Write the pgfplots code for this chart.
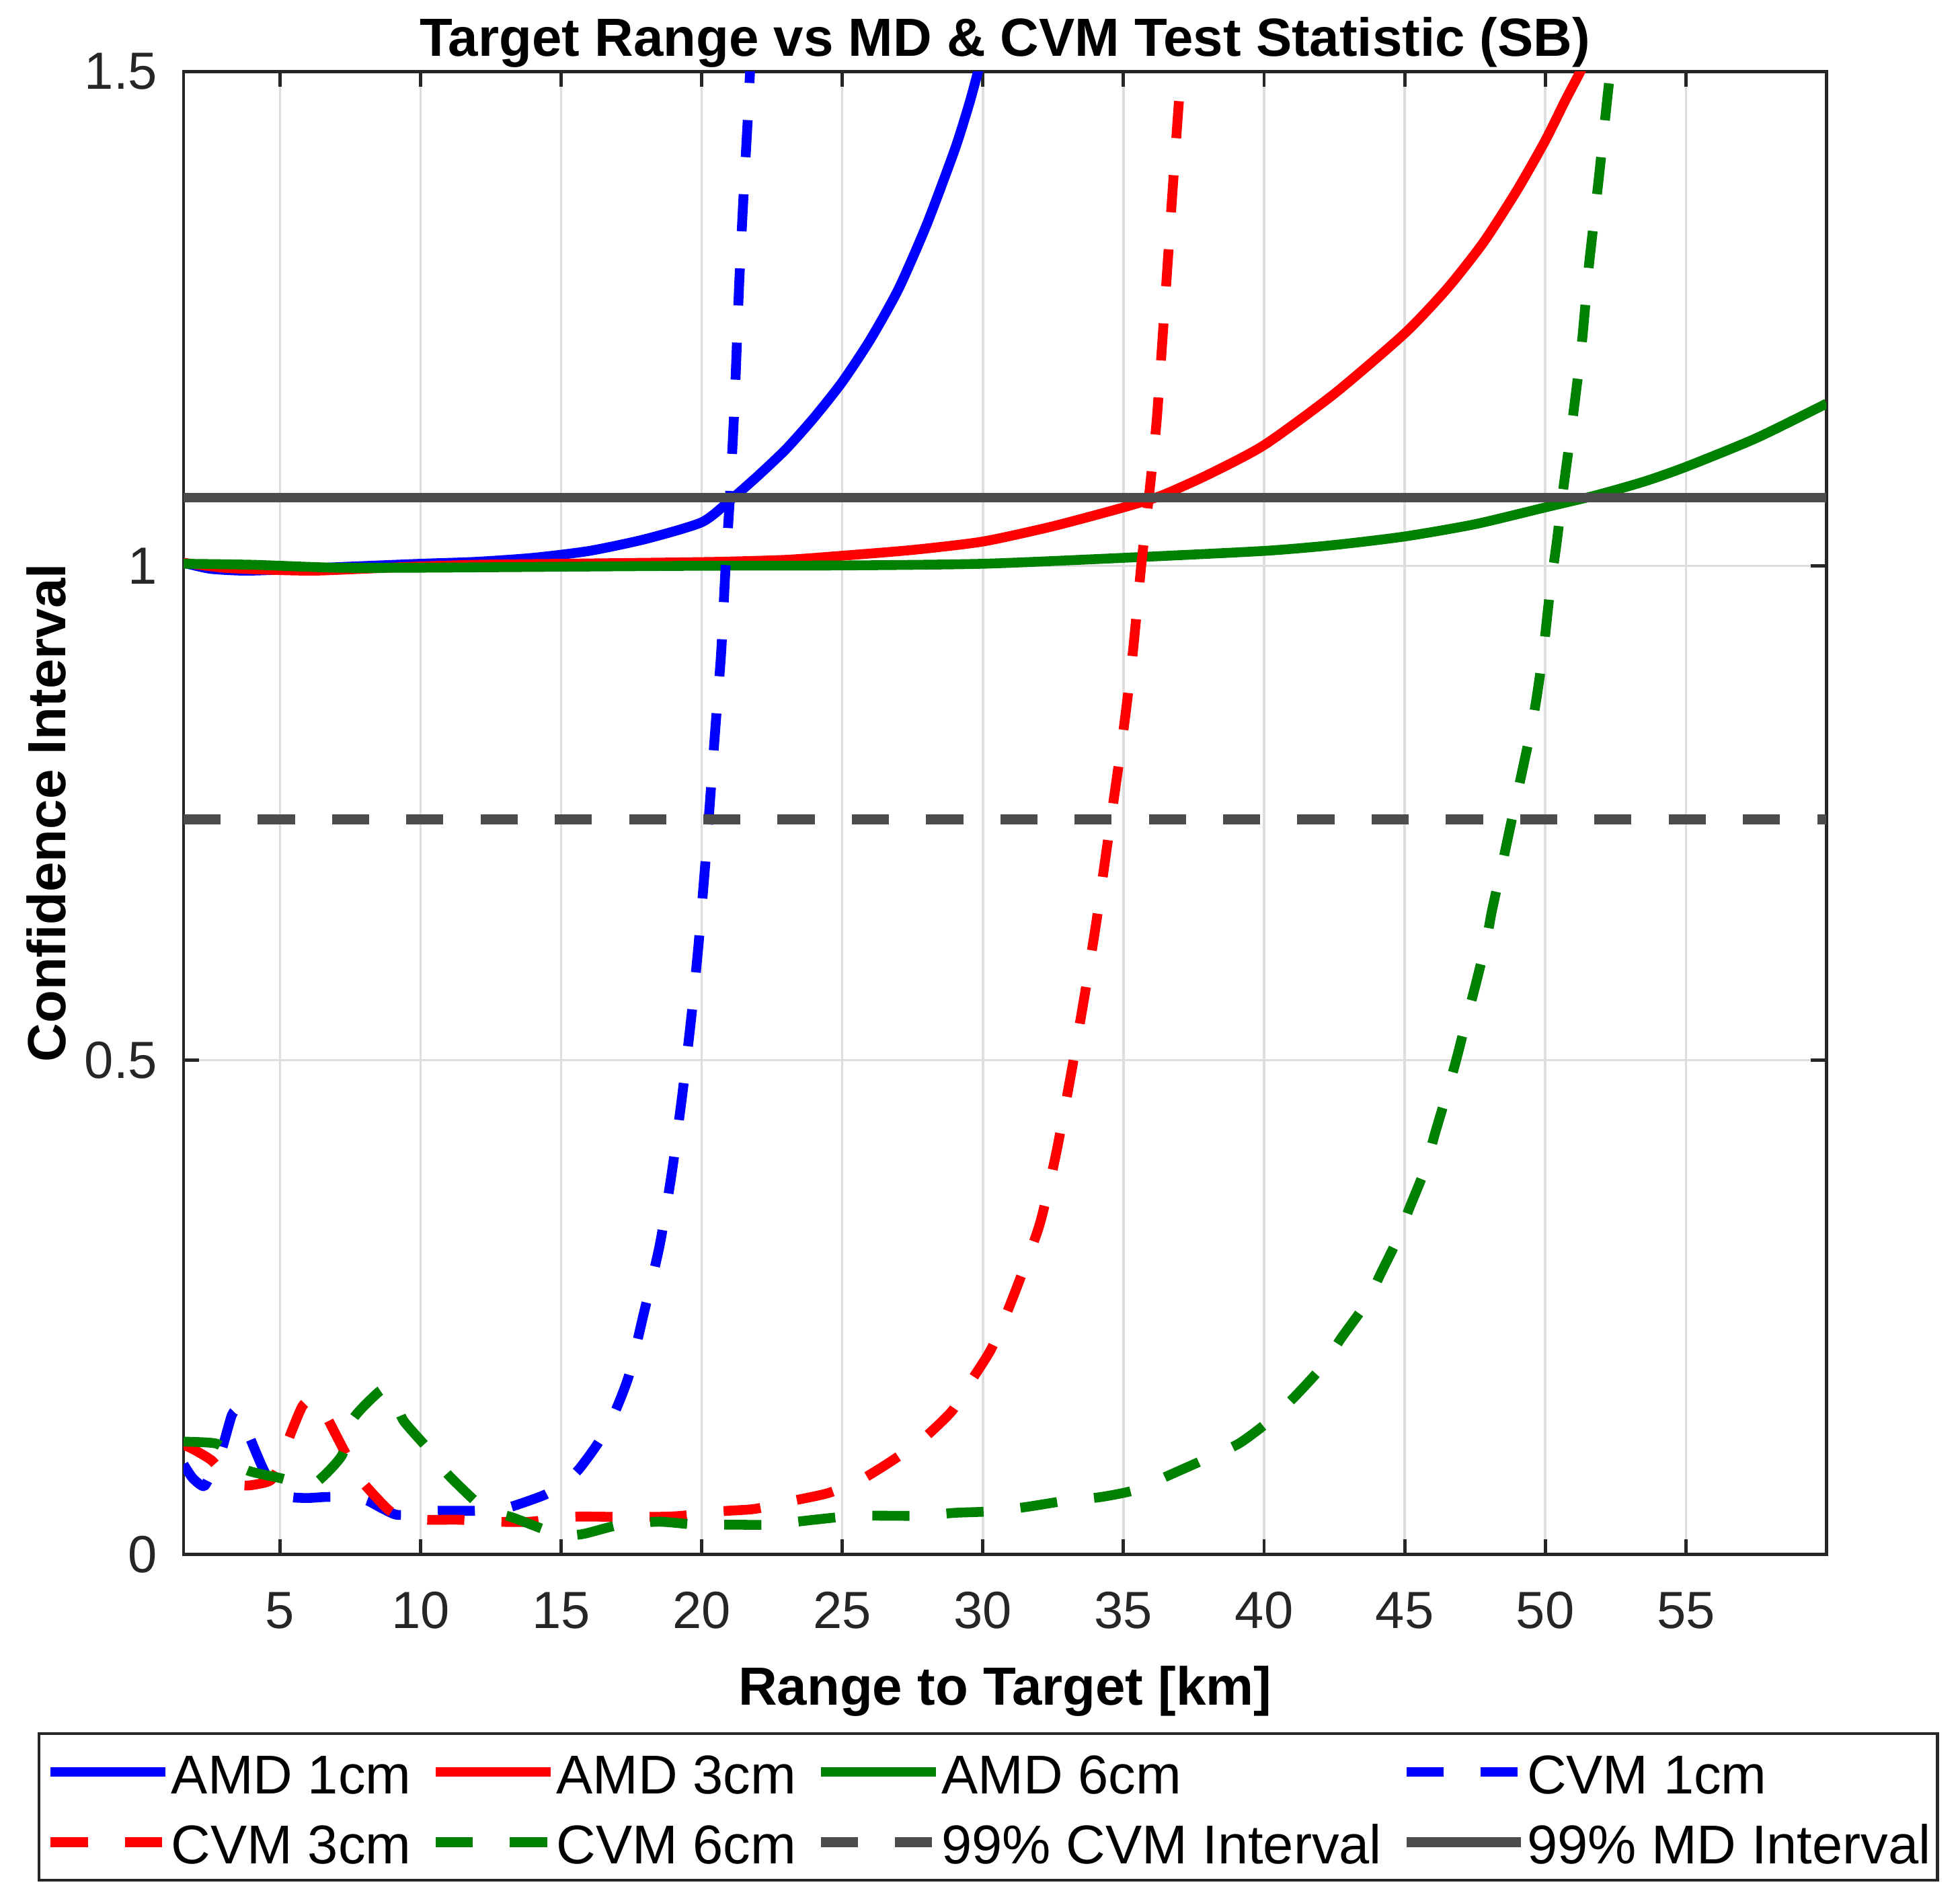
\documentclass[border=0pt]{standalone}
\usepackage{fontspec}
\setmainfont{Liberation Sans}
\usepackage{pgfplots}
\pgfplotsset{compat=1.18}
\definecolor{mdgray}{rgb}{0.3,0.3,0.3}
\definecolor{axgray}{rgb}{0.15,0.15,0.15}
\definecolor{mgreen}{rgb}{0,0.5,0}
\begin{document}
\begin{tikzpicture}
\begin{axis}[
  at={(0,0)}, anchor=south west,
  scale only axis, width=351.8pt, height=317.5pt,
  xmin=1.57, xmax=60, ymin=0, ymax=1.5,
  xtick={5,10,...,55}, ytick={0,0.5,1,1.5}, yticklabels={0,0.5,1,1.5},
  tick align=inside, major tick length=3.3pt,
  grid=major, grid style={line width=0.5pt, color=black!13},
  axis line style={axgray, line width=0.7pt},
  tick style={axgray, line width=0.7pt},
  /pgf/number format/assume math mode=true,
  ticklabel style={font=\fontsize{11.2}{13}\selectfont, text=axgray},
  xticklabel style={anchor=base, yshift=-15.9pt},
  yticklabel style={anchor=east, inner sep=0pt, xshift=-5.4pt},
  title={\bfseries Target Range vs MD \& CVM Test Statistic (SB)},
  every axis title/.style={font=\fontsize{11.5}{14}\selectfont, at={(axis description cs:0.5,1)}, anchor=base, yshift=3.3pt},
  xlabel={\bfseries Range to Target [km]},
  xlabel style={font=\fontsize{11.5}{14}\selectfont, at={(axis description cs:0.5,0)}, anchor=base, yshift=-32.3pt},
  ylabel={\bfseries Confidence Interval},
  ylabel style={font=\fontsize{11.5}{14}\selectfont, at={(axis description cs:-0.0719,0.5)}, anchor=base},
  legend columns=4, legend cell align=left,
  legend image code/.code={\draw[#1] (0pt,0pt) -- (24.6pt,0pt);},
  legend style={at={(axis description cs:-0.0887,-0.2208)}, anchor=south west,
    draw=axgray, line width=0.6pt, fill=white,
    font=\fontsize{11.7}{14}\selectfont,
    inner xsep=1.4pt, inner ysep=2.8pt, row sep=4.2pt,
    nodes={inner sep=0pt, text height=10pt, text depth=0.8pt},
    /tikz/every odd column/.append style={column sep=0.2pt},
    /tikz/every even column/.append style={column sep=4.2pt}},
  every axis plot/.append style={line width=2.1pt, line join=round, smooth, tension=0.4},
]
% AMD 1cm
\addplot[blue] coordinates {
(1.57,1.003) (2.5,0.997) (3.7,0.995) (5,0.996) (7.4,0.999) (10,1.002) (12,1.004)
(14,1.008) (16,1.015) (18,1.027) (20,1.044) (21,1.066) (22,1.091) (23,1.118)
(24,1.150) (25,1.186) (26,1.229) (27,1.280) (28,1.345) (29,1.421) (29.5,1.466)
(29.78,1.495) (30,1.52)};
% AMD 3cm
\addplot[red] coordinates {
(1.57,1.003) (3,0.998) (4.5,0.996) (6.2,0.995) (8,0.997) (9.7,0.999) (12,1.001)
(15,1.002) (18,1.003) (20.6,1.004) (23,1.006) (24.94,1.01) (27.5,1.016) (30,1.0245)
(32.5,1.04) (35,1.059) (36.35,1.071) (38,1.092) (40,1.122) (42.5,1.174) (45,1.235)
(46.5,1.28) (47.8,1.327) (49,1.38) (50,1.43) (50.7,1.47) (51.3,1.503) (51.5,1.52)};
% AMD 6cm
\addplot[mgreen] coordinates {
(1.57,1.002) (4,1.001) (7,0.998) (10,0.998) (15,0.999) (20,1.0) (25,1.0003) (30,1.002)
(35,1.008) (40,1.015) (42.5,1.021) (45,1.0296) (47.5,1.042) (50,1.059) (51.77,1.071)
(53.5,1.085) (55,1.1) (57.5,1.129) (60,1.164)};
% CVM 1cm
\addplot[blue, dash pattern=on 7.95pt off 7.95pt] coordinates {
(1.57,0.091) (1.9,0.077) (2.3,0.069) (2.6,0.085) (2.93,0.106) (3.29,0.141) (3.5,0.146)
(3.7,0.135) (3.93,0.118) (4.48,0.082) (5.0,0.065) (5.4,0.058) (6.0,0.057) (6.6,0.058)
(7.3,0.058) (8.05,0.055) (8.6,0.047) (9.15,0.040) (9.9,0.041) (10.6,0.044) (11.8,0.044)
(12.5,0.045) (13.2,0.048) (14.4,0.060) (15.0,0.070) (15.6,0.085) (16.3,0.112)
(16.85,0.14) (17.4,0.18) (17.9,0.239) (18.5,0.312) (18.93,0.385) (19.3,0.463)
(19.62,0.541) (19.88,0.615) (20.15,0.707) (20.48,0.834) (20.69,0.912) (20.85,1.0)
(21.0,1.069) (21.17,1.166) (21.33,1.284) (21.48,1.371) (21.65,1.459) (21.75,1.52)};
% CVM 3cm
\addplot[red, dash pattern=on 7.95pt off 7.95pt] coordinates {
(1.57,0.111) (2.0,0.105) (2.57,0.095) (3.0,0.082) (3.67,0.070) (4.2,0.071) (4.67,0.075)
(5.0,0.09) (5.3,0.116) (5.8,0.150) (6.2,0.157) (6.5,0.148) (6.7,0.137) (7.3,0.104)
(7.6,0.09) (7.97,0.072) (8.9,0.044) (9.5,0.038) (10.15,0.035) (11.35,0.035) (12.7,0.033)
(13.9,0.033) (15.4,0.038) (16.7,0.038) (18.5,0.038) (19.3,0.039) (20.65,0.0435)
(21.9,0.046) (23.2,0.054) (24.5,0.062) (25.63,0.075) (26.54,0.0905) (27.3,0.105)
(28.0,0.12) (28.9,0.145) (29.5,0.172) (30.3,0.208) (31.0,0.255) (32.0,0.332)
(32.6,0.405) (33.16,0.49) (33.62,0.566) (34.03,0.639) (34.42,0.717) (35.0,0.834)
(35.33,0.912) (35.63,1.0) (35.9,1.069) (36.18,1.147) (36.47,1.264) (36.7,1.361)
(36.92,1.45) (37.05,1.5) (37.1,1.52)};
% CVM 6cm
\addplot[mgreen, dash pattern=on 7.95pt off 7.95pt] coordinates {
(1.57,0.114) (2.74,0.112) (3.3,0.10) (3.84,0.085) (5.03,0.077) (5.7,0.072) (6.3,0.073)
(7.2,0.10) (7.6,0.137) (8.5,0.164) (8.8,0.167) (9.1,0.155) (9.4,0.135) (10.35,0.104)
(10.7,0.09) (11.1,0.077) (12.1,0.050) (12.7,0.042) (13.3,0.037) (14.6,0.023)
(15.2,0.019) (15.85,0.021) (17.1,0.030) (18.5,0.033) (19.8,0.030) (21.2,0.030)
(22.4,0.030) (24,0.035) (25.5,0.039) (27.7,0.039) (29,0.042) (30.3,0.0435)
(31.56,0.048) (32.9,0.054) (34.2,0.058) (35.4,0.065) (36.7,0.081) (37.96,0.097)
(39.1,0.112) (40.1,0.133) (41.04,0.158) (42.07,0.19) (42.75,0.219) (43.68,0.256)
(44.13,0.283) (44.8,0.322) (45.15,0.349) (45.73,0.39) (46.06,0.424) (46.52,0.468)
(46.86,0.503) (47.2,0.541) (47.54,0.578) (47.9,0.62) (48.11,0.652) (48.47,0.698)
(48.8,0.742) (49.14,0.787) (49.5,0.835) (49.7,0.868) (49.95,0.918) (50.17,0.975)
(50.4,1.022) (50.6,1.069) (50.98,1.15) (51.3,1.225) (51.55,1.303) (51.9,1.391)
(52.23,1.479) (52.4,1.52)};
% 99% CVM Interval
\addplot[mdgray, dash pattern=on 7.95pt off 7.95pt, sharp plot] coordinates {(1.57,0.7435) (60,0.7435)};
% 99% MD Interval
\addplot[mdgray, sharp plot] coordinates {(1.57,1.069) (60,1.069)};
\legend{AMD 1cm, AMD 3cm, AMD 6cm, CVM 1cm, CVM 3cm, CVM 6cm, 99\% CVM Interval, 99\% MD Interval}
\end{axis}
\pgfresetboundingbox
\path[use as bounding box] (-39.3pt,-73.3pt) rectangle (380.4pt,332.8pt);
\end{tikzpicture}
\end{document}
